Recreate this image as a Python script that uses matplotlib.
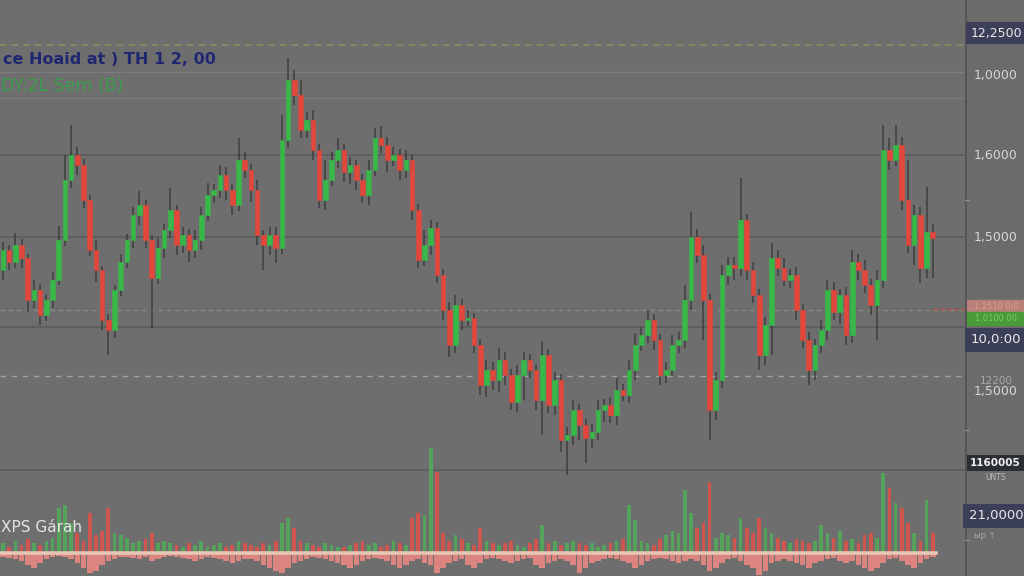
import numpy as np
import matplotlib
matplotlib.use("Agg")
import matplotlib.pyplot as plt

# closing prices, one per candle (open = previous close)
first_open = 306
closes = [326, 314, 331, 318, 276, 286, 261, 276, 296, 336,
          396, 421, 411, 376, 326, 306, 256, 246, 286, 314,
          336, 361, 371, 336, 298, 328, 346, 366, 331, 341,
          326, 336, 361, 381, 386, 401, 386, 371, 416, 406,
          386, 341, 331, 341, 328, 436, 496, 481, 446, 456,
          426, 376, 396, 416, 426, 404, 411, 396, 381, 406,
          438, 431, 416, 421, 406, 416, 366, 316, 331, 348,
          301, 266, 231, 271, 256, 258, 231, 191, 206, 196,
          216, 201, 174, 201, 216, 206, 176, 221, 171, 196,
          136, 141, 166, 151, 138, 144, 166, 171, 161, 186,
          181, 206, 231, 241, 256, 236, 201, 206, 231, 236,
          276, 339, 321, 276, 166, 196, 301, 311, 308, 356,
          306, 281, 221, 251, 318, 308, 296, 301, 266, 236,
          206, 231, 246, 286, 264, 281, 241, 314, 306, 291,
          271, 296, 426, 416, 431, 376, 331, 361, 308, 344,
          338]

wick_up = [8, 5, 12, 6, 4, 10, 6, 5, 8, 14,
           25, 30, 8, 6, 5, 10, 4, 6, 5, 8,
           6, 8, 14, 5, 5, 10, 6, 22, 5, 8,
           6, 10, 8, 12, 6, 10, 8, 6, 22, 8,
           6, 10, 5, 8, 8, 25, 22, 10, 15, 8,
           10, 6, 20, 8, 12, 6, 8, 5, 6, 10,
           10, 12, 8, 8, 6, 10, 5, 6, 15, 8,
           6, 6, 8, 10, 6, 8, 5, 6, 10, 8,
           12, 8, 6, 10, 8, 6, 5, 14, 6, 8,
           6, 8, 10, 6, 6, 8, 10, 6, 8, 12,
           6, 10, 12, 8, 10, 6, 6, 8, 10, 8,
           15, 25, 8, 10, 6, 8, 10, 8, 8, 42,
           6, 8, 6, 8, 15, 8, 10, 6, 8, 6,
           8, 6, 10, 10, 8, 6, 8, 12, 8, 10,
           6, 10, 25, 12, 20, 8, 40, 10, 8, 45,
           8]

wick_dn = [10, 8, 6, 10, 12, 8, 10, 6, 8, 5,
           6, 8, 10, 8, 6, 12, 10, 25, 8, 6,
           6, 8, 10, 8, 50, 6, 10, 8, 10, 8,
           12, 8, 10, 6, 8, 8, 10, 10, 6, 8,
           12, 10, 25, 10, 15, 6, 8, 10, 8, 8,
           10, 8, 10, 6, 8, 10, 12, 10, 8, 10,
           6, 8, 12, 6, 10, 8, 10, 8, 6, 10,
           8, 10, 12, 8, 10, 6, 8, 10, 12, 10,
           12, 10, 8, 10, 25, 8, 10, 35, 8, 10,
           12, 35, 10, 15, 25, 10, 8, 12, 8, 10,
           6, 8, 10, 6, 8, 10, 10, 8, 6, 8,
           8, 10, 8, 40, 30, 10, 8, 10, 12, 8,
           10, 8, 15, 10, 30, 8, 6, 8, 10, 8,
           15, 10, 8, 10, 8, 12, 10, 8, 10, 8,
           10, 35, 8, 10, 6, 10, 8, 20, 15, 10,
           40]

volume = [10, 6, 12, 8, 14, 10, 8, 12, 15, 45,
          48, 30, 20, 12, 40, 18, 22, 45, 20, 18,
          15, 10, 12, 14, 20, 10, 12, 10, 8, 6,
          10, 8, 12, 6, 8, 10, 6, 8, 12, 10,
          8, 6, 10, 8, 12, 30, 35, 25, 12, 10,
          8, 6, 10, 8, 6, 6, 8, 10, 12, 8,
          10, 6, 8, 12, 10, 8, 35, 40, 38, 105,
          81, 20, 12, 18, 14, 10, 8, 25, 12, 10,
          8, 10, 12, 8, 6, 10, 14, 28, 10, 12,
          8, 10, 12, 10, 8, 10, 6, 8, 10, 12,
          14, 48, 33, 12, 10, 8, 14, 18, 22, 20,
          63, 40, 25, 30, 71, 15, 20, 18, 15, 35,
          25, 20, 35, 25, 20, 15, 12, 10, 14, 12,
          10, 12, 28, 20, 15, 22, 12, 14, 10, 18,
          20, 15, 80, 65, 50, 45, 30, 20, 12, 53,
          20]

dips = [4, 5, 6, 8, 12, 15, 10, 6, 4, 3,
        4, 6, 10, 15, 20, 18, 12, 8, 6, 4,
        4, 5, 6, 4, 8, 6, 4, 3, 4, 5,
        6, 8, 6, 4, 5, 6, 8, 10, 8, 6,
        6, 8, 12, 15, 18, 20, 15, 10, 8, 6,
        4, 5, 6, 8, 10, 12, 15, 12, 8, 6,
        5, 6, 8, 12, 15, 12, 8, 6, 10, 12,
        20, 15, 10, 8, 6, 12, 15, 10, 6, 5,
        6, 8, 10, 8, 6, 5, 12, 15, 10, 8,
        6, 8, 12, 20, 15, 10, 8, 6, 5, 6,
        8, 10, 15, 12, 8, 6, 5, 6, 8, 10,
        8, 6, 8, 12, 18, 15, 10, 6, 5, 8,
        12, 15, 22, 18, 10, 8, 6, 8, 10, 12,
        15, 10, 8, 6, 5, 8, 10, 8, 12, 15,
        18, 15, 10, 6, 5, 8, 12, 15, 10, 6,
        4]

bg = "#6e6e6e"
green = "#38b848"
red = "#e2473c"

closes = np.array(closes, dtype=float)
opens = np.concatenate([[first_open], closes[:-1]])
top = np.maximum(opens, closes)
bot = np.minimum(opens, closes)
highs = top + np.array(wick_up)
lows = bot - np.array(wick_dn)
up = closes >= opens
cols = np.where(up, green, red)
idx = np.arange(len(closes))

fig = plt.figure(figsize=(10.24, 5.76), dpi=100, facecolor=bg)

# price panel
ax = fig.add_axes([0, 0, 965 / 1024, 1])
ax.set_facecolor(bg)
ax.set_xlim(-0.48, 155.2)
ax.set_ylim(0, 576)
for s in ax.spines.values():
    s.set_visible(False)
ax.set_xticks([])
ax.set_yticks([])

for lvl in [421, 339, 249, 106]:
    ax.axhline(lvl, color="#5b5b5b", lw=1.2, zorder=1)
for lvl in [504, 478]:
    ax.axhline(lvl, color="#7c7c7c", lw=1.0, zorder=1)
ax.axhline(531, color="#8d8d62", lw=1.2, ls=(0, (4, 3)), zorder=1)
ax.axhline(266, color="#8a8a80", lw=1.0, ls=(0, (3, 3)), zorder=1)
ax.plot([150, 155.2], [267, 267], color="#c04a40", lw=1.0, ls=(0, (3, 2)), zorder=1)
ax.axhline(200, color="#b8b8b8", lw=1.0, ls=(0, (4, 4)), alpha=0.7, zorder=1)

ax.vlines(idx, lows, highs, color="#3e3e3e", lw=1.1, zorder=2)
ax.bar(idx, top - bot, bottom=bot, width=0.75, color=cols, edgecolor=cols,
       lw=0.4, zorder=3)

ax.text(0, 516, "ce Hoaid at ) TH 1 2, 00", color="#1f2770", fontsize=11.5,
        fontweight="bold", va="center", ha="left")
ax.text(-0.3, 490, "DY:2L Sem (B)", color="#3a9e4c", fontsize=12.5,
        va="center", ha="left")

# volume panel
vax = fig.add_axes([0, 0, 965 / 1024, 136 / 576])
vax.set_facecolor("none")
vax.set_xlim(-0.48, 155.2)
vax.set_ylim(-23, 113)
for s in vax.spines.values():
    s.set_visible(False)
vax.set_xticks([])
vax.set_yticks([])
vcols = np.where(up, "#52a85a", "#d9544c")
vax.bar(idx, volume, width=0.6, color=vcols, alpha=0.9, zorder=2)
vax.bar(idx, -np.array(dips), width=0.9, color="#f08a84", alpha=0.85, zorder=2)
vax.plot([-0.48, 150.5], [0, 0], color="#e6c6b4", lw=2.6, zorder=3)
vax.text(-0.3, 26, "XPS Gárah", color="#e4e4e4", fontsize=11, va="center", ha="left")

# right price scale
rax = fig.add_axes([965 / 1024, 0, 59 / 1024, 1])
rax.set_facecolor("#6b6b6b")
rax.set_xlim(0, 59)
rax.set_ylim(576, 0)
rax.set_xticks([])
rax.set_yticks([])
for s in rax.spines.values():
    s.set_visible(False)
rax.axvline(0, color="#545454", lw=2)
for ty in [200, 430, 540]:
    rax.plot([0, 4], [ty, ty], color="#8a8a8a", lw=1)

box = dict(boxstyle="square,pad=0.35", fc="#3b4058", ec="none")
rax.text(31, 33, "12,2500", color="#e8e8e8", fontsize=9, ha="center", va="center", bbox=box)
for ty, lab in [(75, "1,0000"), (155, "1,6000"), (237, "1,5000"), (392, "1,5000")]:
    rax.text(31, ty, lab, color="#d6d6d6", fontsize=9, ha="center", va="center")
rax.text(31, 381, "12200", color="#a8a8a8", fontsize=7.5, ha="center", va="center")
rax.add_patch(plt.Rectangle((2, 300), 57, 12, color="#b88078"))
rax.text(31, 306, "1,2510 0/0", color="#d8a090", fontsize=6, ha="center", va="center")
rax.add_patch(plt.Rectangle((2, 312), 57, 13, color="#4a9a3a"))
rax.text(31, 319, "1,0100 00", color="#7cc86a", fontsize=6, ha="center", va="center")
rax.text(31, 340, "10,0:00", color="#e8e8e8", fontsize=9.5, ha="center", va="center",
         bbox=dict(boxstyle="square,pad=0.45", fc="#3b4058", ec="none"))
rax.text(30, 463, "1160005", color="#f0f0f0", fontsize=7.5, fontweight="bold",
         ha="center", va="center", bbox=dict(boxstyle="square,pad=0.3", fc="#2c2e36", ec="none"))
rax.text(31, 477, "UNTS", color="#bcbcbc", fontsize=5.5, ha="center", va="center")
rax.text(31, 516, "21,0000", color="#e8e8e8", fontsize=9.5, ha="center", va="center",
         bbox=dict(boxstyle="square,pad=0.45", fc="#3b4058", ec="none"))
rax.text(20, 536, "ыр ↑", color="#a8a8a8", fontsize=6, ha="center", va="center")

fig.savefig("out.png", dpi=100, facecolor=bg)
